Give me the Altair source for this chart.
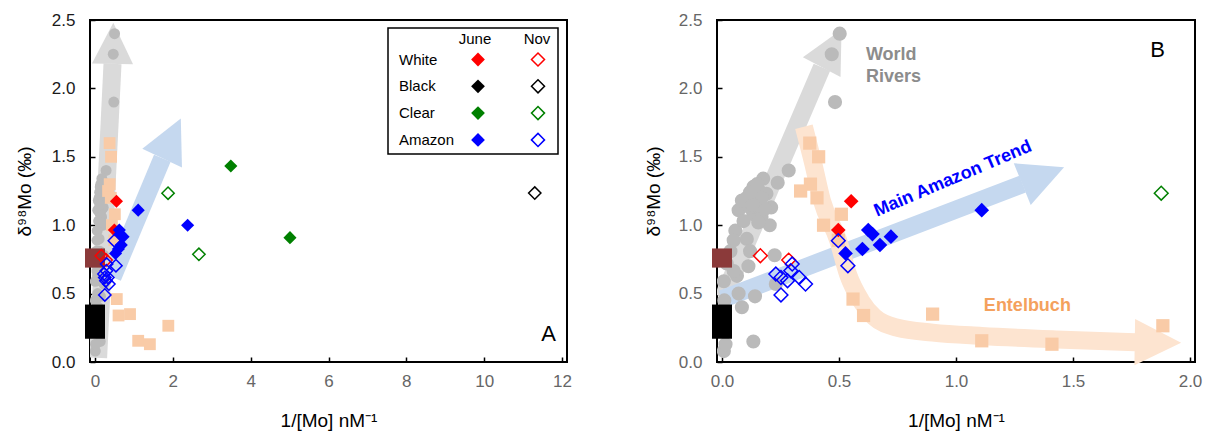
import math
import altair as alt
import pandas as pd

FONT = "Liberation Sans"

# ---------------- data ----------------
rivers_x = [0.503, 0.469, 0.483, 0.285, 0.238, 0.176, 0.134, 0.106, 0.148, 0.190,
            0.210, 0.071, 0.134, 0.169, 0.204, 0.057, 0.106, 0.050, 0.225, 0.113,
            0.036, 0.064, 0.008, 0.141, 0.085, 0.134, 0.008, 0.230, 0.085, 0.160,
            0.120, 0.183, 0.092, 0.015, 0.071, 0.010, 0.010, 0.020, 0.150, 0.170,
            0.130, 0.120, 0.155, 0.050, 0.120]
rivers_y = [2.40, 2.25, 1.90, 1.40, 1.31, 1.34, 1.28, 1.20, 1.18, 1.23,
            1.13, 1.11, 1.08, 1.06, 1.00, 0.96, 0.90, 0.89, 0.78, 0.70,
            0.81, 0.63, 0.59, 0.48, 0.40, 0.15, 0.08, 0.57, 1.18, 1.25,
            1.13, 1.12, 1.03, 0.13, 0.50, 0.25, 0.45, 0.72, 1.30, 1.20,
            1.15, 0.81, 1.02, 0.665, 1.24]

entel_x = [0.375, 0.413, 0.378, 0.336, 0.406, 0.510, 0.434, 0.497, 0.560, 0.605,
           0.900, 1.110, 1.410, 1.884]
entel_y = [1.60, 1.50, 1.30, 1.25, 1.20, 1.08, 1.00, 0.89, 0.46, 0.34,
           0.35, 0.155, 0.13, 0.265]

white_june_x = [0.552, 0.497]
white_june_y = [1.175, 0.965]
white_nov_x = [0.164, 0.285]
white_nov_y = [0.777, 0.745]
black_nov_x = [11.3]
black_nov_y = [1.235]
clear_june_x = [3.49, 5.01]
clear_june_y = [1.433, 0.909]
clear_nov_x = [1.877, 2.67]
clear_nov_y = [1.234, 0.787]
amazon_june_x = [0.528, 0.600, 0.625, 0.643, 0.675, 0.722, 1.110, 2.380]
amazon_june_y = [0.794, 0.826, 0.965, 0.935, 0.855, 0.916, 1.110, 1.000]
amazon_nov_x = [0.497, 0.538, 0.300, 0.230, 0.252, 0.280, 0.330, 0.357, 0.252, 0.294]
amazon_nov_y = [0.887, 0.704, 0.716, 0.643, 0.618, 0.594, 0.618, 0.570, 0.490, 0.667]

# end-member boxes at 1/[Mo] = 0 (low / high delta)
end_upper_x = [0.0]
end_upper_lo = [0.69]
end_upper_hi = [0.83]
end_lower_x = [0.0]
end_lower_lo = [0.17]
end_lower_hi = [0.42]

# trend arrows (shaft points, last point = arrow tip)
a_gray_x = [0.08, 0.45, 0.47]
a_gray_y = [0.03, 2.18, 2.48]
a_blue_x = [0.45, 1.73, 2.20]
a_blue_y = [0.62, 1.49, 1.78]

b_gray_x = [0.005, 0.427, 0.51]
b_gray_y = [0.47, 2.155, 2.43]
b_blue_x = [0.0, 1.285, 1.46]
b_blue_y = [0.46, 1.30, 1.424]
b_peach_x = [0.35, 0.39, 0.427, 0.497, 0.538, 0.594, 0.65, 0.75, 0.90, 1.11, 1.46, 1.766, 1.96]
b_peach_y = [1.72, 1.45, 1.18, 0.887, 0.643, 0.447, 0.33, 0.25, 0.215, 0.19, 0.163, 0.145, 0.14]

legend_rows = ["White", "Black", "Clear", "Amazon"]
legend_cols = ["June", "Nov"]

# ---------------- styles ----------------
RED, BLACK, GREEN, BLUE = "#ff0000", "#000000", "#008000", "#0000ff"
GRAY_PT = "#bababa"
PEACH_PT = "#f9cba7"
BROWN = "#8b3a3a"
GRAY_AR, BLUE_AR, PEACH_AR = "#dadada", "#c5d8ef", "#fde4d0"
ROW_COLORS = [RED, BLACK, GREEN, BLUE]


def df(xv, yv):
    return pd.DataFrame({"x": xv, "y": yv})


def panel(xmax, xvals, xfmt, W, H, ylab_color, ytp, arrows, notes, legend, k, kc):
    xs = alt.Scale(domain=[0, xmax], nice=False, zero=False)
    ys = alt.Scale(domain=[0, 2.5], nice=False, zero=False)
    sx, sy = W / xmax, H / 2.5
    yvals = [0, 0.5, 1.0, 1.5, 2.0, 2.5]

    def XY(ax=None, ay=None):
        return dict(x=alt.X("x:Q", scale=xs, axis=ax),
                    y=alt.Y("y:Q", scale=ys, axis=ay))

    main_x = alt.Axis(orient="bottom", values=xvals, format=xfmt, title="1/[Mo] nM⁻¹",
                      ticks=False, domain=False, grid=False, labelFlush=False,
                      labelOverlap=False, labelPadding=11, labelFont=FONT,
                      labelFontSize=17, labelColor="#666666", titleFont=FONT,
                      titleFontSize=19, titleFontWeight="normal", titleColor="#000000",
                      titlePadding=22)
    main_y = alt.Axis(orient="left", values=yvals, format=".1f", title="δ⁹⁸Mo (‰)",
                      ticks=False, domain=False, grid=False, labelFlush=False,
                      labelOverlap=False, labelPadding=15, labelFont=FONT,
                      labelFontSize=17, labelColor=ylab_color, titleFont=FONT,
                      titleFontSize=19, titleFontWeight="normal", titleColor="#000000",
                      titlePadding=ytp)
    tick_x = alt.Axis(orient="bottom", values=xvals, labels=False, title=None,
                      ticks=True, tickSize=5, tickWidth=1.5, tickColor="#000000",
                      domain=False, grid=False, offset=-5)
    tick_y = alt.Axis(orient="left", values=yvals, labels=False, title=None,
                      ticks=True, tickSize=5, tickWidth=1.5, tickColor="#000000",
                      domain=False, grid=False, offset=-5)

    layers = []
    # arrows
    for axv, ayv, color, interp in arrows:
        shaft = pd.DataFrame({"x": axv[:-1], "y": ayv[:-1], "o": list(range(len(axv) - 1))})
        layers.append(alt.Chart(shaft).mark_line(color=color, strokeWidth=18, strokeCap="butt",
                                                 interpolate=interp, clip=True)
                      .encode(order="o:Q", **XY()))
        bx, by, tx, ty = axv[-2], ayv[-2], axv[-1], ayv[-1]
        dx = (tx - bx) * sx
        dy = -(ty - by) * sy
        ang = math.degrees(math.atan2(dx, -dy)) % 360
        L = math.hypot(dx, dy)
        head = df([(bx + tx) / 2], [(by + ty) / 2])
        layers.append(alt.Chart(head).mark_point(shape="M0,-1L1,1L-1,1Z", filled=True,
                                                 color=color, opacity=1, size=L * L,
                                                 angle=ang, strokeWidth=0)
                      .encode(**XY()))

    # world rivers
    layers.append(alt.Chart(df(rivers_x, rivers_y)).mark_circle(
        color=GRAY_PT, opacity=1, size=200 * kc, clip=True).encode(**XY(main_x, main_y)))
    # Entelbuch
    layers.append(alt.Chart(df(entel_x, entel_y)).mark_square(
        color=PEACH_PT, opacity=1, size=175 * k, clip=True).encode(**XY(tick_x, tick_y)))
    # end-member boxes
    for ex, lo, hi, col in [(end_upper_x, end_upper_lo, end_upper_hi, BROWN),
                            (end_lower_x, end_lower_lo, end_lower_hi, BLACK)]:
        d = pd.DataFrame({"x": ex, "lo": lo, "hi": hi})
        layers.append(alt.Chart(d).mark_bar(color=col, size=20, orient="vertical", opacity=1)
                      .encode(x=alt.X("x:Q", scale=xs, axis=None),
                              y=alt.Y("lo:Q", scale=ys, axis=None),
                              y2="hi:Q"))
    # diamonds
    for xv, yv, col in [(white_june_x, white_june_y, RED), (clear_june_x, clear_june_y, GREEN),
                        (amazon_june_x, amazon_june_y, BLUE)]:
        layers.append(alt.Chart(df(xv, yv)).mark_point(
            shape="diamond", filled=True, color=col, opacity=1, size=215 * k, clip=True)
            .encode(**XY()))
    for xv, yv, col in [(white_nov_x, white_nov_y, RED), (black_nov_x, black_nov_y, BLACK),
                        (clear_nov_x, clear_nov_y, GREEN), (amazon_nov_x, amazon_nov_y, BLUE)]:
        layers.append(alt.Chart(df(xv, yv)).mark_point(
            shape="diamond", filled=False, color=col, opacity=1, size=190 * k,
            strokeWidth=1.5, clip=True).encode(**XY()))

    # text notes
    for nx, ny, txt, col, fs, fw, ang, align in notes:
        kw = dict(text=txt, color=col, fontSize=fs, fontWeight=fw, font=FONT,
                  align=align, baseline="middle", lineBreak="\n", lineHeight=22)
        if ang:
            kw["angle"] = ang
        layers.append(alt.Chart(df([nx], [ny])).mark_text(**kw).encode(**XY()))

    # legend box (left panel only)
    if legend:
        one = pd.DataFrame({"a": [0]})
        layers.append(alt.Chart(one).mark_rect(fill="#ffffff", stroke="#000000", strokeWidth=1.5)
                      .encode(x=alt.value(298), x2=alt.value(468), y=alt.value(8), y2=alt.value(134)))
        for cx, name in zip([385, 447], legend_cols):
            layers.append(alt.Chart(one).mark_text(text=name, font=FONT, fontSize=15, color="#000000",
                                                   align="center", baseline="middle")
                          .encode(x=alt.value(cx), y=alt.value(19)))
        for i, (name, col) in enumerate(zip(legend_rows, ROW_COLORS)):
            yy = 39.5 + i * 26.8
            layers.append(alt.Chart(one).mark_text(text=name, font=FONT, fontSize=15, color="#000000",
                                                   align="left", baseline="middle")
                          .encode(x=alt.value(309), y=alt.value(yy)))
            layers.append(alt.Chart(one).mark_point(shape="diamond", filled=True, color=col,
                                                    opacity=1, size=190)
                          .encode(x=alt.value(388), y=alt.value(yy)))
            layers.append(alt.Chart(one).mark_point(shape="diamond", filled=False, color=col,
                                                    opacity=1, size=170, strokeWidth=1.5)
                          .encode(x=alt.value(448), y=alt.value(yy)))

    return (alt.layer(*layers)
            .resolve_axis(x="independent", y="independent")
            .properties(width=W, height=H))


left_arrows = [(a_gray_x, a_gray_y, GRAY_AR, "linear"),
               (a_blue_x, a_blue_y, BLUE_AR, "linear")]
right_arrows = [(b_gray_x, b_gray_y, GRAY_AR, "linear"),
                (b_blue_x, b_blue_y, BLUE_AR, "linear"),
                (b_peach_x, b_peach_y, PEACH_AR, "monotone")]

left_notes = [(11.47, 0.205, "A", "#000000", 22, "normal", 0, "left")]
right_notes = [(0.615, 2.244, "World\nRivers", "#8c8c8c", 18, "bold", 0, "left"),
               (0.987, 1.338, "Main Amazon Trend", "#0000ff", 18, "bold", 337, "center"),
               (1.305, 0.41, "Entelbuch", "#f4a15d", 18, "bold", 0, "center"),
               (1.862, 2.28, "B", "#000000", 22, "normal", 0, "center")]

left = panel(12, [0, 2, 4, 6, 8, 10, 12], "d", 477, 342, "#1a1a1a", 17,
             left_arrows, left_notes, True, 0.8, 0.6)
right = panel(2.0, [0, 0.5, 1.0, 1.5, 2.0], ".1f", 478, 342, "#666666", 15,
              right_arrows, right_notes, False, 1.0, 1.0)

chart = (alt.hconcat(left, right, spacing=70)
         .properties(padding={"left": 14, "top": 10, "right": 0, "bottom": 5},
                     background="#ffffff")
         .configure_view(stroke="#000000", strokeWidth=2))

chart.save("out.html", embed_options={"renderer": "svg", "actions": False})
